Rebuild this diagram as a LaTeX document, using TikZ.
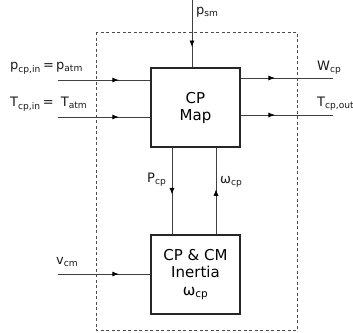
\documentclass[tikz,border=0pt]{standalone}
\usepackage{fontspec}
\setmainfont{DejaVu Sans}
\usetikzlibrary{arrows.meta,decorations.markings}
\newcommand{\sbs}[1]{\textsubscript{#1}}
\tikzset{
  blk/.style={draw=black!85,line width=1.6bp,minimum width=89bp,minimum height=79bp,align=center,font=\fontsize{15bp}{17bp}\selectfont,inner sep=0pt},
  conn/.style={draw=black!75,line width=0.8bp},
  midarr/.style={postaction={decorate},decoration={markings,mark=at position #1 with {\arrow[black]{Latex[length=6.5bp,width=5bp]}}}},
  lbl/.style={font=\fontsize{13bp}{15bp}\selectfont,inner sep=0pt,text=black!90},
  bound/.style={draw=black!70,line width=0.8bp,dash pattern=on 3bp off 2.5bp}
}
\begin{document}
\begin{tikzpicture}[x=1bp,y=-1bp]
\useasboundingbox (0,0) rectangle (353,333);
\draw[bound] (96,32) rectangle (297,330);
\node[blk] (map) at (195.5,107.5) {CP\\Map};
\node[blk] (inr) at (195.5,274.5) {CP \& CM\\Inertia\\[1bp]ω\sbs{cp}};
% inputs
\coordinate (pin) at (58,80);
\coordinate (tin) at (58,117);
\coordinate (vin) at (58,274);
\coordinate (psm) at (192,0);
\coordinate (wout) at (333,78);
\coordinate (tout) at (333,115);
\draw[conn,midarr=0.66] (pin) -- (map.west|-pin);
\draw[conn,midarr=0.66] (tin) -- (map.west|-tin);
\draw[conn,midarr=0.66] (vin) -- (inr.west|-vin);
\draw[conn,midarr=0.7] (psm) -- (map.north-|psm);
\draw[conn,midarr=0.37] (map.east|-wout) -- (wout);
\draw[conn,midarr=0.37] (map.east|-tout) -- (tout);
\coordinate (pc) at (172,0);
\coordinate (wc) at (216,0);
\draw[conn,midarr=0.54] (map.south-|pc) -- (inr.north-|pc);
\draw[conn,midarr=0.52] (inr.north-|wc) -- (map.south-|wc);
% labels
\node[lbl,anchor=west] (lp) at (10,68) {p\sbs{cp,in}\,=\,p\sbs{atm}};
\node[lbl,anchor=west] (lt) at (10,104) {T\sbs{cp,in}\,=\;\;T\sbs{atm}};
\node[lbl,anchor=west] (lv) at (56,262) {v\sbs{cm}};
\node[lbl,anchor=west] (lpsm) at (196,12) {p\sbs{sm}};
\node[lbl,anchor=west] (lw) at (317,68) {W\sbs{cp}};
\node[lbl,anchor=west] (lto) at (317,104) {T\sbs{cp,out}};
\node[lbl,anchor=west] (lpc) at (147,180) {P\sbs{cp}};
\node[lbl,anchor=west] (lwc) at (220,182) {ω\sbs{cp}};
\end{tikzpicture}
\end{document}
